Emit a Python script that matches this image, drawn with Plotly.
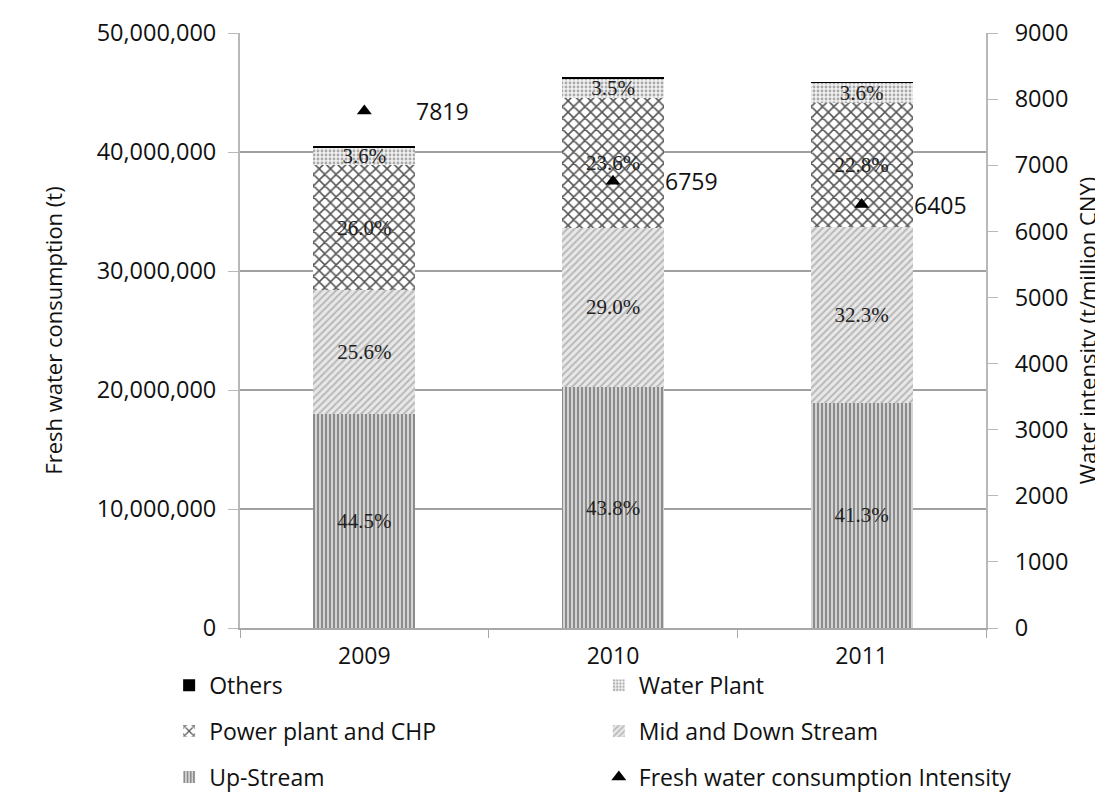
import plotly.graph_objects as go

years = ["2009", "2010", "2011"]

# Fresh water consumption by sector (t)
up_stream = [18020000, 20240000, 18920000]
mid_down = [10370000, 13400000, 14790000]
power_chp = [10530000, 10900000, 10440000]
water_plant = [1460000, 1620000, 1650000]
others = [120000, 60000, 60000]

up_pct = ["44.5%", "43.8%", "41.3%"]
mid_pct = ["25.6%", "29.0%", "32.3%"]
power_pct = ["26.0%", "23.6%", "22.8%"]
water_pct = ["3.6%", "3.5%", "3.6%"]

intensity = [7819, 6759, 6405]

SANS = "Open Sans"
SERIF = "Liberation Serif"

fig = go.Figure()

def add_bar(name, vals, labels, shape, fg, bg, size, solidity, legend, rank):
    fig.add_trace(go.Bar(
        x=years, y=vals, name=name,
        text=labels, textposition="inside",
        insidetextanchor="middle", textangle=0, constraintext="none",
        textfont=dict(family=SERIF, size=21, color="#222222"),
        marker=dict(color=bg, line=dict(width=0),
                    pattern=dict(shape=shape, fgcolor=fg, bgcolor=bg,
                                 size=size, solidity=solidity, fillmode="replace")),
        legend=legend, legendgroup=name, legendrank=rank,
        yaxis="y",
    ))

add_bar("Up-Stream", up_stream, up_pct, "|", "#7a7a7a", "#d4d4d4", 4, 0.4, "legend", 3)
add_bar("Mid and Down Stream", mid_down, mid_pct, "/", "#b8b8b8", "#e8e8e8", 5, 0.4, "legend2", 2)
add_bar("Power plant and CHP", power_chp, power_pct, "x", "#555555", "#ffffff", 8, 0.35, "legend", 2)
add_bar("Water Plant", water_plant, water_pct, ".", "#aaaaaa", "#f2f2f2", 4, 0.4, "legend2", 1)
fig.add_trace(go.Bar(
    x=years, y=others, name="Others", textposition="none",
    marker=dict(color="#000000", line=dict(width=0)),
    legend="legend", legendgroup="Others", legendrank=1, yaxis="y",
))

fig.add_trace(go.Scatter(
    x=years, y=intensity, name="Fresh water consumption Intensity",
    mode="markers", yaxis="y2",
    marker=dict(symbol="triangle-up", size=13, color="#000000"),
    legend="legend2", legendgroup="Intensity", legendrank=3,
))

for i, v in enumerate(intensity):
    fig.add_annotation(x=i, y=v, yref="y2", xref="x", text=str(v),
                       showarrow=False, xanchor="left", xshift=50,
                       font=dict(family=SANS, size=23, color="#111111"))

fig.update_layout(
    width=1103, height=795,
    margin=dict(l=232, r=125, t=25, b=175, autoexpand=False),
    paper_bgcolor="white", plot_bgcolor="white",
    barmode="stack", bargap=0.59,
    font=dict(family=SANS, size=23, color="#111111"),
    xaxis=dict(type="category", range=[-0.5, 2.5], automargin=False,
               showline=True, linecolor="#a8a8a8", linewidth=2,
               ticks="outside", tickson="boundaries", ticklen=8, tickcolor="#a8a8a8",
               ticklabelstandoff=6, tickfont=dict(size=23), showgrid=False),
    yaxis=dict(range=[0, 50000000], dtick=10000000, tickformat=",", automargin=False,
               showline=True, linecolor="#b8b8b8", linewidth=2,
               ticks="outside", ticklen=10, tickcolor="#b8b8b8", ticklabelstandoff=7,
               showgrid=True, gridcolor="#a0a0a0", gridwidth=2, zeroline=False,
               tickfont=dict(size=23.5),
               title=dict(text="Fresh water consumption (t)", font=dict(size=22), standoff=28)),
    yaxis2=dict(range=[0, 9000], dtick=1000, overlaying="y", side="right", automargin=False,
                showline=True, linecolor="#b8b8b8", linewidth=2,
                ticks="outside", ticklen=10, tickcolor="#b8b8b8", ticklabelstandoff=12,
                showgrid=False, zeroline=False, tickfont=dict(size=23.5),
                title=dict(text="Water intensity (t/million CNY)", font=dict(size=22), standoff=13)),
    legend=dict(x=-0.095, y=-0.060, xanchor="left", yanchor="top", orientation="v",
                tracegroupgap=13, font=dict(size=23), bgcolor="rgba(0,0,0,0)"),
    legend2=dict(x=0.481, y=-0.060, xanchor="left", yanchor="top", orientation="v",
                 tracegroupgap=13, font=dict(size=23), bgcolor="rgba(0,0,0,0)"),
)

fig.write_html("out.html")
